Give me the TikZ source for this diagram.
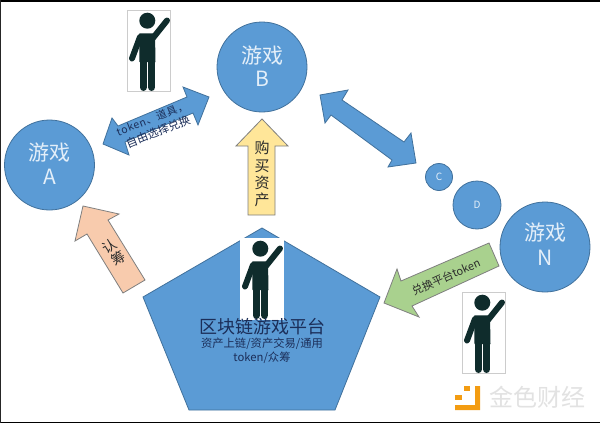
\documentclass[tikz,border=0pt]{standalone}
\usepackage{fontspec}
\newfontfamily\cjk{Noto Sans CJK SC}
\newfontfamily\cjkwide[LetterSpace=6]{Noto Sans CJK SC}
\definecolor{bluefill}{HTML}{5B9BD5}
\definecolor{blueline}{HTML}{41719C}
\definecolor{pinkfill}{HTML}{F8CBAD}
\definecolor{yellowfill}{HTML}{FFE699}
\definecolor{greenfill}{HTML}{A9D18E}
\definecolor{greyline}{HTML}{7F7F7F}
\definecolor{navytext}{HTML}{1B2E59}
\definecolor{darktext}{HTML}{2B2B2B}
\definecolor{circletext}{HTML}{E4EFF9}
\definecolor{figcolor}{HTML}{0F2C2C}
\definecolor{logoorange}{HTML}{F39C12}
\definecolor{logogrey}{HTML}{E2E2E2}
\tikzset{
  game/.style={circle,draw=blueline,line width=0.8pt,fill=bluefill,inner sep=0pt,minimum size=#1},
  gamelabel/.style={font=\cjk\fontsize{21}{21}\selectfont,text=circletext,inner sep=0pt},
  smalllabel/.style={font=\cjk\fontsize{10}{10}\selectfont,text=circletext,inner sep=0pt},
  block/.style={draw=blueline,line width=0.8pt,fill=bluefill,line join=miter},
  softblock/.style={draw=greyline,line width=0.8pt,fill=#1},
  navylabel/.style={text=navytext,inner sep=0pt},
  darklabel/.style={text=darktext,inner sep=0pt},
  limb/.style={draw=figcolor,line width=6pt,line cap=round},
  leg/.style={draw=figcolor,line width=7.4pt,line cap=round},
}
\newcommand{\personfig}[3]{%
  \begin{scope}[shift={(#1,#2)}]
    \path[#3] (0,0) rectangle (43.5,81.5);
    \fill[figcolor] (20.3,10.7) circle[radius=8pt];
    \fill[figcolor] (12.3,23.3) -- (28,23.3) -- (28.5,52) -- (12.5,52) -- cycle;
    \draw[limb] (26,28) -- (40,10.5);
    \draw[limb] (13,27) -- (5,48.5);
    \draw[leg] (16.3,50) -- (16.3,77.3);
    \draw[leg] (24.6,50) -- (24.6,77.3);
  \end{scope}}
\begin{document}
\begin{tikzpicture}[x=1pt,y=-1pt]
\useasboundingbox (0,0) rectangle (600,423);
\fill[white] (0,0) rectangle (600,423);
% frame
\fill[black] (0,0) rectangle (600,2);
\fill[black] (0,421.5) rectangle (600,423);
\fill[black!85] (0,0) rectangle (1,423);
% games
\node[game=90pt] (gameA) at (49.5,165) {};
\node[game=90pt] (gameB) at (262,67) {};
\node[game=90pt] (gameN) at (545,247) {};
\node[game=27pt] (gameC) at (439,177) {};
\node[game=48pt] (gameD) at (477,205) {};
\node[gamelabel] at (49.5,153) {游戏};
\node[gamelabel] at (49.5,177) {A};
\node[gamelabel] at (262,56) {游戏};
\node[gamelabel] at (262,79) {B};
\node[gamelabel] at (545,233) {游戏};
\node[gamelabel] at (545,258) {N};
\node[smalllabel] at (439,177) {C};
\node[smalllabel] at (477,205) {D};
% pentagon
\draw[block] (262,228) -- (380,297) -- (335,410) -- (189,410) -- (143,297) -- cycle;
% double arrows
\draw[block] (103,144) -- (112,118) -- (118,126) -- (187,97) -- (183,87) -- (209,97) -- (198,125) -- (193,113) -- (125,142) -- (129,155) -- cycle;
\draw[block] (320,95) -- (348,90) -- (342,100) -- (404,142) -- (411,133) -- (416,163) -- (388,167) -- (392,160) -- (331,115) -- (325,123) -- cycle;
% single arrows
\draw[softblock=yellowfill] (262,119) -- (288,146) -- (275,146) -- (275,215) -- (248,215) -- (248,146) -- (236,146) -- cycle;
\draw[softblock=pinkfill] (83,206) -- (119,214) -- (108,220) -- (145,280) -- (123,293) -- (87,234) -- (75,241) -- cycle;
\draw[softblock=greenfill] (384,303) -- (397,269) -- (401,281) -- (489,243) -- (499,266) -- (412,306) -- (419,317) -- cycle;
% people
\personfig{127}{10}{draw=black!20,line width=0.5pt}
\personfig{240}{238}{fill=white}
\personfig{462}{292}{draw=black!20,line width=0.5pt}
% arrow labels
\node[navylabel,rotate=21,font=\cjkwide\fontsize{10.5}{10.5}\selectfont] at (152,119) {token、道具，};
\node[navylabel,rotate=22,font=\cjk\fontsize{11.3}{11.3}\selectfont] at (158,131.5) {自由选择兑换};
\node[darklabel,rotate=24,font=\cjk\fontsize{11}{11}\selectfont] at (446,277) {兑换平台token};
\foreach \c/\yy in {购/148,买/166,资/183,产/200}{
  \node[darklabel,font=\cjk\fontsize{15}{15}\selectfont] at (262,\yy) {\c};
}
\node[darklabel,rotate=33,font=\cjk\fontsize{14}{14}\selectfont] at (109,246) {认};
\node[darklabel,rotate=33,font=\cjk\fontsize{14}{14}\selectfont] at (118,258) {筹};
% pentagon labels
\node[navylabel,font=\cjk\fontsize{18}{18}\selectfont] at (262,327) {区块链游戏平台};
\node[navylabel,font=\cjk\fontsize{11.3}{11.3}\selectfont] at (262,344) {资产上链/资产交易/通用};
\node[navylabel,font=\cjk\fontsize{11.3}{11.3}\selectfont] at (262,357.5) {token/众筹};
% logo
\fill[logoorange] (475,386) -- (480,386) -- (480,410) -- (455,410) -- (455,405) -- (475,405) -- cycle;
\fill[logoorange] (464,386) rectangle (470,391);
\fill[logoorange] (455,395) rectangle (462,400);
\node[inner sep=0pt,text=logogrey,font=\cjk\fontsize{24}{24}\selectfont] at (537.5,397.5) {金色财经};
\end{tikzpicture}
\end{document}
